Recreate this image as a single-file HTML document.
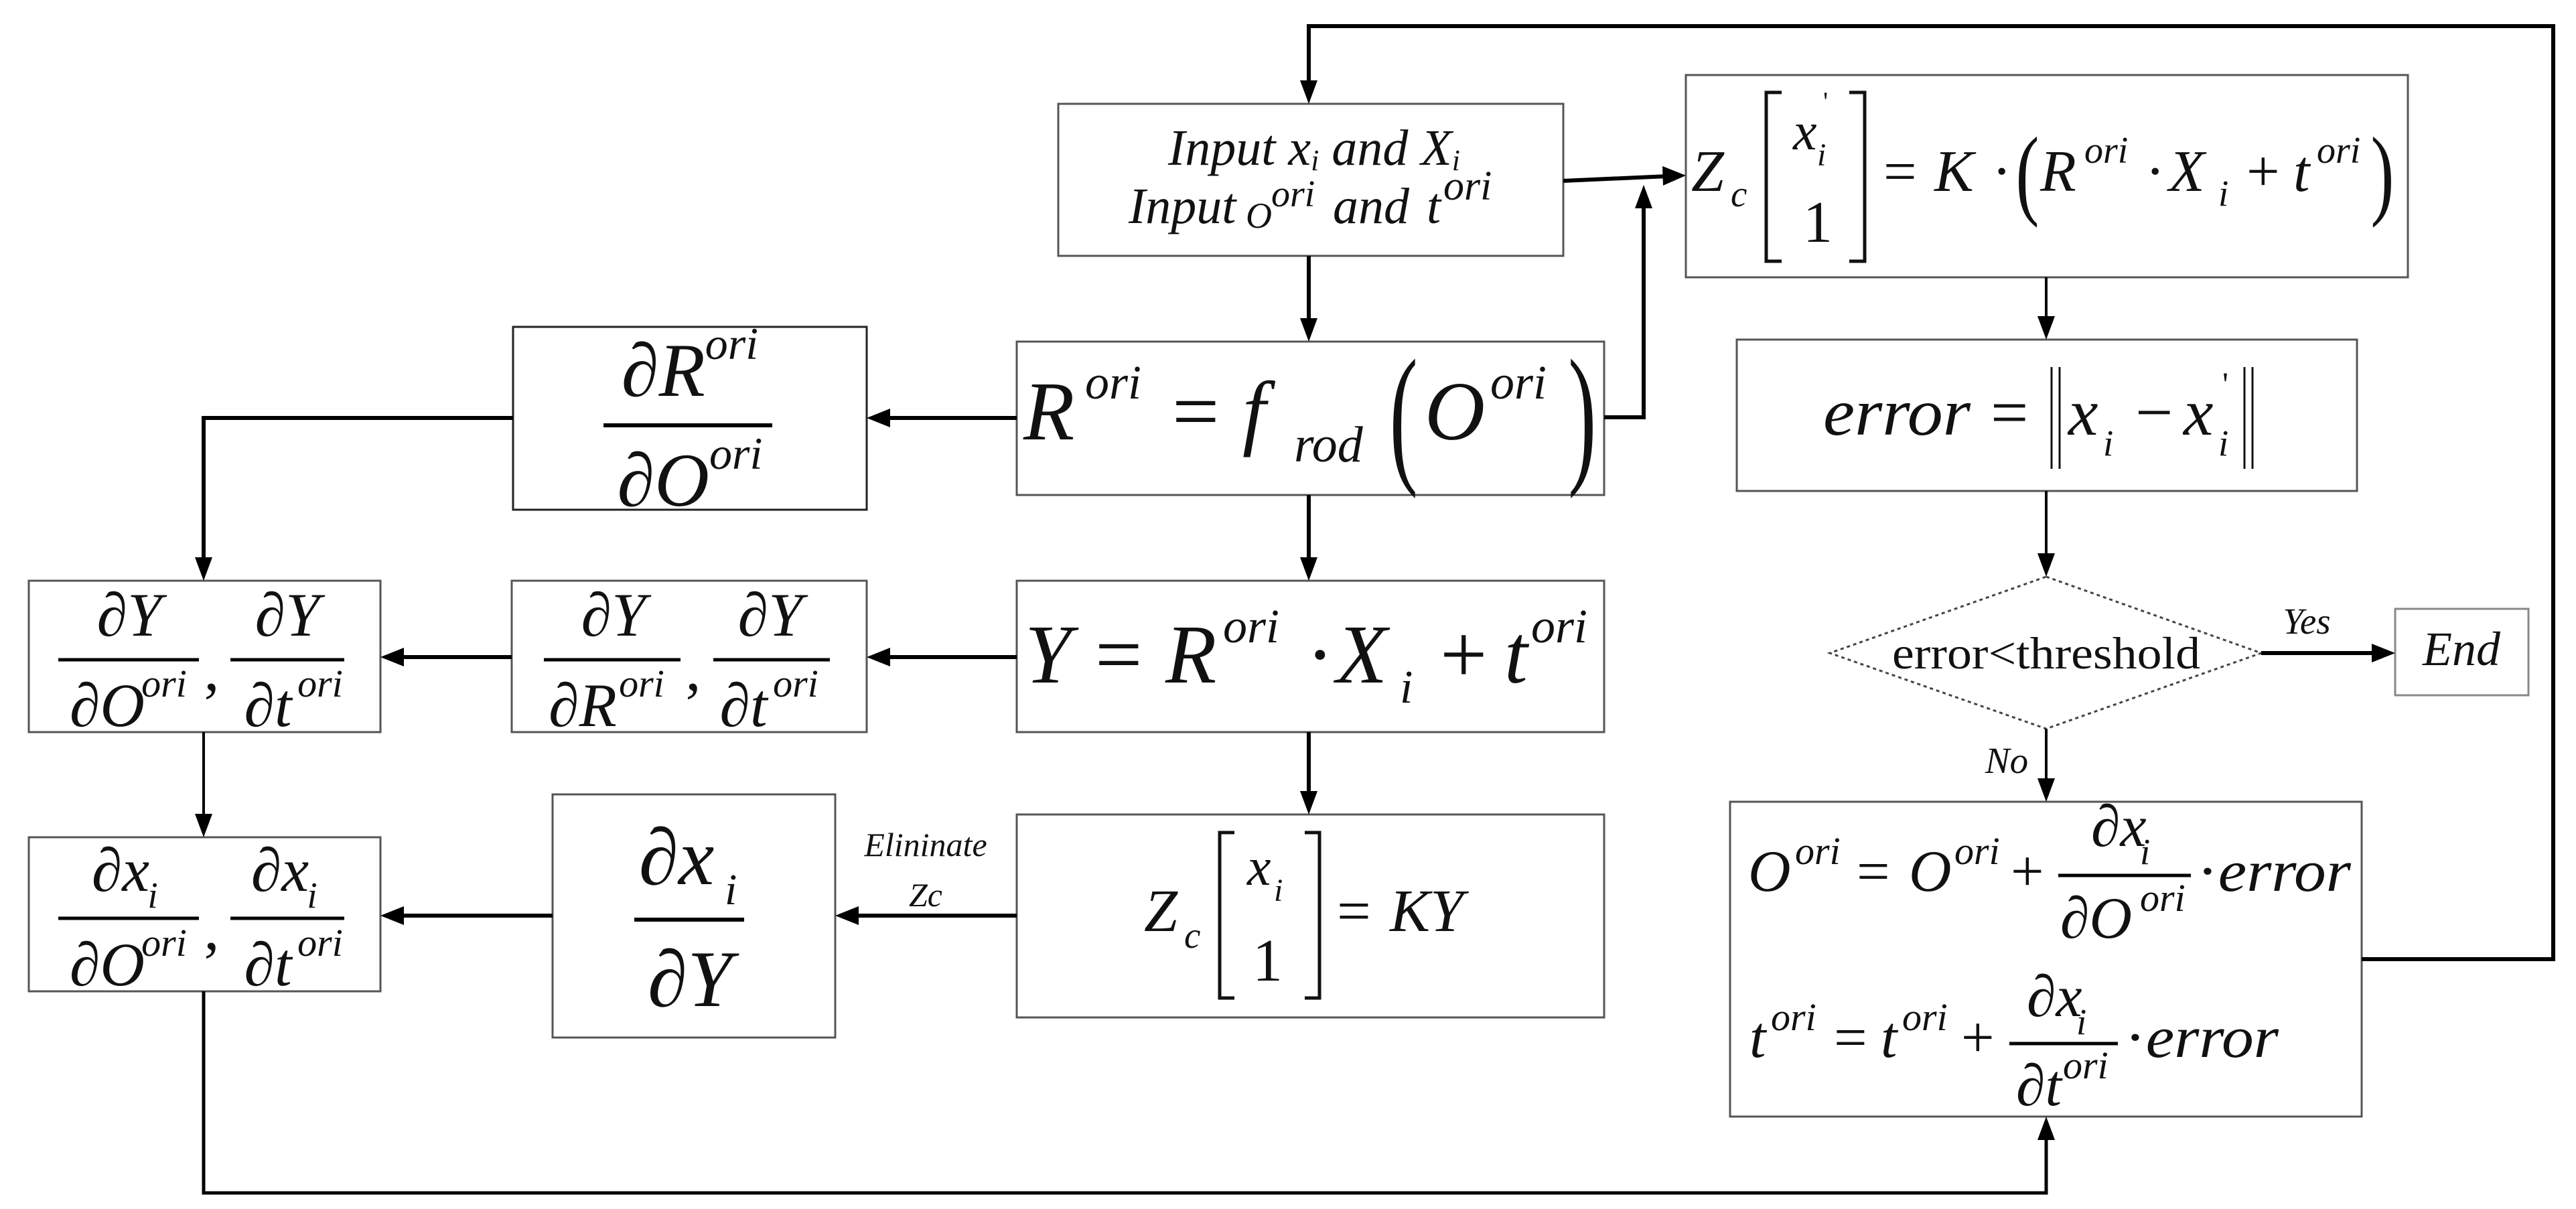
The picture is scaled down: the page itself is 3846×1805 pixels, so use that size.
<!DOCTYPE html>
<html><head><meta charset="utf-8"><style>html,body{margin:0;padding:0;background:#fff}svg{display:block}</style></head><body>
<svg width="3846" height="1805" viewBox="0 0 3846 1805" xmlns="http://www.w3.org/2000/svg" font-family="Liberation Serif, serif" font-style="italic" fill="#111">
<g fill="none" stroke="#555" stroke-width="3">
<rect x="1580" y="155" width="754" height="227"/>
<rect x="2517" y="112" width="1078" height="302"/>
<rect x="766" y="488" width="528" height="273" stroke="#222"/>
<rect x="1518" y="510" width="877" height="229"/>
<rect x="2593" y="507" width="926" height="226"/>
<rect x="43" y="867" width="525" height="226"/>
<rect x="764" y="867" width="530" height="226"/>
<rect x="1518" y="867" width="877" height="226"/>
<rect x="43" y="1250" width="525" height="230"/>
<rect x="825" y="1186" width="422" height="363"/>
<rect x="1518" y="1216" width="877" height="303"/>
<rect x="3576" y="909" width="199" height="129" stroke="#888"/>
<rect x="2583" y="1197" width="943" height="470"/>
<polygon points="3055,861 3376,975 3055,1088 2732,975" stroke-dasharray="5,5" stroke="#444"/>
</g>
<g fill="none" stroke="#000" stroke-width="6">
<polyline points="3526,1432 3812,1432 3812,39 1954,39 1954,130"/>
<line x1="1954" y1="382" x2="1954" y2="485"/>
<line x1="2334" y1="270" x2="2490" y2="263"/>
<polyline points="2395,623 2454,623 2454,305"/>
<line x1="1954" y1="739" x2="1954" y2="842"/>
<line x1="1954" y1="1093" x2="1954" y2="1191"/>
<line x1="1518" y1="624" x2="1320" y2="624"/>
<polyline points="766,624 304,624 304,842"/>
<line x1="1518" y1="981" x2="1320" y2="981"/>
<line x1="764" y1="981" x2="594" y2="981"/>
<line x1="304" y1="1093" x2="304" y2="1225" stroke-width="4"/>
<line x1="1518" y1="1367" x2="1273" y2="1367"/>
<line x1="825" y1="1367" x2="594" y2="1367"/>
<polyline points="304,1480 304,1781 3055,1781 3055,1692" stroke-width="5"/>
<line x1="3055" y1="414" x2="3055" y2="482" stroke-width="4"/>
<line x1="3055" y1="733" x2="3055" y2="836" stroke-width="4"/>
<line x1="3055" y1="1088" x2="3055" y2="1172" stroke-width="4"/>
<line x1="3376" y1="975" x2="3551" y2="975"/>
</g>
<g fill="#000">
<polygon points="1954,155 1941,120 1967,120"/>
<polygon points="1954,510 1941,475 1967,475"/>
<polygon points="2517,262 2482,248 2483,277"/>
<polygon points="2454,276 2441,311 2467,311"/>
<polygon points="1954,867 1941,832 1967,832"/>
<polygon points="1954,1216 1941,1181 1967,1181"/>
<polygon points="1294,624 1329,610 1329,638"/>
<polygon points="304,867 291,832 317,832"/>
<polygon points="1294,981 1329,967 1329,995"/>
<polygon points="568,981 603,967 603,995"/>
<polygon points="304,1250 291,1215 317,1215"/>
<polygon points="1247,1367 1282,1353 1282,1381"/>
<polygon points="568,1367 603,1353 603,1381"/>
<polygon points="3055,1667 3042,1702 3068,1702"/>
<polygon points="3055,507 3042,472 3068,472"/>
<polygon points="3055,861 3042,826 3068,826"/>
<polygon points="3055,1197 3042,1162 3068,1162"/>
<polygon points="3576,975 3541,961 3541,989"/>
</g>
<!-- Input box -->
<text x="1744" y="246" font-size="76" textLength="436" lengthAdjust="spacingAndGlyphs">Input x<tspan font-size="44" dy="8">i</tspan><tspan dy="-8"> and X</tspan><tspan font-size="44" dy="8">i</tspan></text>
<text x="1685" y="333" font-size="76">Input</text>
<text x="1860" y="340" font-size="54">O</text>
<text x="1898" y="308" font-size="56">ori</text>
<text x="1990" y="333" font-size="76">and</text>
<text x="2130" y="333" font-size="76">t</text>
<text x="2155" y="298" font-size="62">ori</text>
<!-- Zc top -->
<g fill="none" stroke="#111" stroke-width="5">
<polyline points="2660,138 2637,138 2637,390 2660,390"/>
<polyline points="2761,138 2784,138 2784,390 2761,390"/>
<polyline points="1843,1243 1821,1243 1821,1490 1843,1490"/>
<polyline points="1948,1243 1970,1243 1970,1490 1948,1490"/>
<line x1="3063" y1="548" x2="3063" y2="700" stroke-width="3"/><line x1="3075" y1="548" x2="3075" y2="700" stroke-width="3"/>
<line x1="3351" y1="548" x2="3351" y2="700" stroke-width="3"/><line x1="3363" y1="548" x2="3363" y2="700" stroke-width="3"/>
</g>
<g font-size="88">
<text x="2525" y="285">Z</text><text x="2584" y="308" font-size="55">c</text>
<text x="2677" y="223" font-size="80">x</text><text x="2713" y="247" font-size="48">i</text><text x="2722" y="165" font-size="40" font-style="normal">'</text>
<text x="2692" y="361" font-style="normal">1</text>
<text x="2812" y="285" font-style="normal">=</text>
<text x="2888" y="285">K</text>
<text x="2974" y="285" font-style="normal">·</text>
<text x="3005" y="308" font-size="150" font-style="normal" transform="translate(3020,0) scale(0.7,1) translate(-3020,0)">(</text>
<text x="3046" y="285">R</text><text x="3112" y="243" font-size="56">ori</text>
<text x="3203" y="285" font-style="normal">·</text>
<text x="3238" y="285">X</text><text x="3312" y="307" font-size="55">i</text>
<text x="3354" y="285" font-style="normal">+</text>
<text x="3424" y="285">t</text><text x="3459" y="243" font-size="56">ori</text>
<text x="3535" y="308" font-size="150" font-style="normal" transform="translate(3550,0) scale(0.7,1) translate(-3550,0)">)</text>
</g>
<!-- R box -->
<g font-size="125">
<text x="1528" y="656">R</text><text x="1620" y="595" font-size="72">ori</text>
<text x="1750" y="656" font-style="normal">=</text>
<text x="1855" y="656">f</text><text x="1932" y="689" font-size="76">rod</text>
<text x="2062" y="695" font-size="230" font-style="normal" transform="translate(2090,0) scale(0.55,1) translate(-2090,0)">(</text>
<text x="2127" y="656">O</text><text x="2225" y="595" font-size="72">ori</text>
<text x="2330" y="695" font-size="230" font-style="normal" transform="translate(2355,0) scale(0.55,1) translate(-2355,0)">)</text>
</g>
<!-- dR/dO -->
<text x="1030" y="591" font-size="113" text-anchor="middle">∂R<tspan font-size="68" dy="-55">ori</tspan></text>
<line x1="901" y1="635" x2="1153" y2="635" stroke="#000" stroke-width="6"/>
<text x="1030" y="755" font-size="113" text-anchor="middle">∂O<tspan font-size="68" dy="-55">ori</tspan></text>
<!-- error -->
<g font-size="100">
<text x="2722" y="649" textLength="220" lengthAdjust="spacingAndGlyphs">error</text>
<text x="2972" y="649" font-style="normal">=</text>
<text x="3088" y="649">x</text><text x="3140" y="680" font-size="55">i</text>
<text x="3188" y="649" font-style="normal">−</text>
<text x="3260" y="649">x</text><text x="3312" y="680" font-size="55">i</text><text x="3318" y="590" font-size="50" font-style="normal">'</text>
</g>
<!-- diamond -->
<text x="3055" y="998" font-size="68" font-style="normal" text-anchor="middle" textLength="460" lengthAdjust="spacingAndGlyphs">error&lt;threshold</text>
<text x="3444" y="946" font-size="55" text-anchor="middle">Yes</text>
<text x="3675" y="993" font-size="72" text-anchor="middle">End</text>
<text x="2996" y="1154" font-size="55" text-anchor="middle">No</text>
<!-- row3/row4 fractions -->
<g font-size="92" text-anchor="middle">
<text x="193" y="949">∂Y</text><text x="160" y="1084">∂O</text><text x="245" y="1040" font-size="58">ori</text>
<text x="429" y="949">∂Y</text><text x="400" y="1084">∂t</text><text x="478" y="1040" font-size="58">ori</text>
<text x="316" y="1030" font-style="normal">,</text>
<text x="916" y="949">∂Y</text><text x="870" y="1084">∂R</text><text x="958" y="1040" font-size="58">ori</text>
<text x="1150" y="949">∂Y</text><text x="1110" y="1084">∂t</text><text x="1188" y="1040" font-size="58">ori</text>
<text x="1035" y="1030" font-style="normal">,</text>
<text x="180" y="1330">∂x</text><text x="228" y="1355" font-size="55">i</text>
<text x="160" y="1471">∂O</text><text x="245" y="1427" font-size="58">ori</text>
<text x="418" y="1330">∂x</text><text x="466" y="1355" font-size="55">i</text>
<text x="400" y="1471">∂t</text><text x="478" y="1427" font-size="58">ori</text>
<text x="316" y="1417" font-style="normal">,</text>
</g>
<g stroke="#000" stroke-width="5">
<line x1="87" y1="985" x2="297" y2="985"/><line x1="344" y1="985" x2="514" y2="985"/>
<line x1="812" y1="985" x2="1016" y2="985"/><line x1="1065" y1="985" x2="1239" y2="985"/>
<line x1="87" y1="1371" x2="297" y2="1371"/><line x1="344" y1="1371" x2="514" y2="1371"/>
<line x1="947" y1="1373" x2="1111" y2="1373" stroke-width="6"/>
<line x1="3073" y1="1307" x2="3271" y2="1307"/>
<line x1="3000" y1="1558" x2="3162" y2="1558"/>
</g>
<!-- Y box -->
<g font-size="125">
<text x="1530" y="1019">Y</text>
<text x="1635" y="1019" font-style="normal">=</text>
<text x="1740" y="1019">R</text><text x="1826" y="959" font-size="72">ori</text>
<text x="1950" y="1019" font-style="normal">·</text>
<text x="1995" y="1019">X</text><text x="2090" y="1049" font-size="70">i</text>
<text x="2150" y="1019" font-style="normal">+</text>
<text x="2246" y="1019">t</text><text x="2286" y="959" font-size="72">ori</text>
</g>
<!-- dx/dY -->
<text x="1010" y="1320" font-size="120" text-anchor="middle">∂x</text><text x="1082" y="1350" font-size="66">i</text>
<text x="1030" y="1502" font-size="120" text-anchor="middle">∂Y</text>
<text x="1382" y="1278" font-size="50" text-anchor="middle">Elininate</text>
<text x="1382" y="1353" font-size="50" text-anchor="middle">Zc</text>
<!-- Zc KY -->
<g font-size="90">
<text x="1708" y="1390">Z</text><text x="1768" y="1415" font-size="55">c</text>
<text x="1862" y="1321" font-size="80">x</text><text x="1902" y="1345" font-size="48">i</text>
<text x="1870" y="1464" font-style="normal">1</text>
<text x="1996" y="1390" font-style="normal">=</text>
<text x="2075" y="1390">KY</text>
</g>
<!-- update box -->
<g font-size="88">
<text x="2610" y="1330">O</text><text x="2680" y="1290" font-size="58">ori</text>
<text x="2772" y="1330" font-style="normal">=</text>
<text x="2850" y="1330">O</text><text x="2918" y="1290" font-size="58">ori</text>
<text x="3002" y="1330" font-style="normal">+</text>
<text x="3122" y="1263">∂x</text><text x="3195" y="1290" font-size="55">i</text>
<text x="3076" y="1400">∂O</text><text x="3195" y="1360" font-size="58">ori</text>
<text x="3280" y="1330" textLength="230" lengthAdjust="spacingAndGlyphs"><tspan font-style="normal">·</tspan>error</text>
<text x="2612" y="1578">t</text><text x="2644" y="1538" font-size="58">ori</text>
<text x="2738" y="1578" font-style="normal">=</text>
<text x="2808" y="1578">t</text><text x="2840" y="1538" font-size="58">ori</text>
<text x="2928" y="1578" font-style="normal">+</text>
<text x="3026" y="1517">∂x</text><text x="3100" y="1544" font-size="55">i</text>
<text x="3010" y="1650">∂t</text><text x="3080" y="1610" font-size="58">ori</text>
<text x="3172" y="1578" textLength="230" lengthAdjust="spacingAndGlyphs"><tspan font-style="normal">·</tspan>error</text>
</g>
</svg>
</body></html>
